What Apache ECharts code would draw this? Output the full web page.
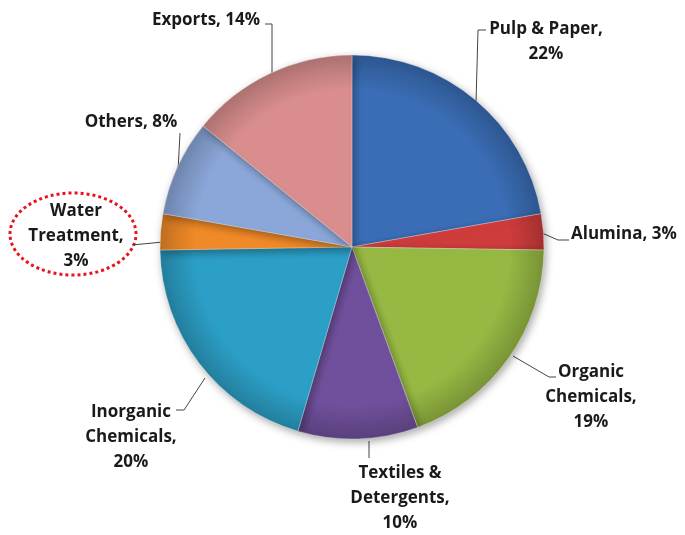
<!DOCTYPE html>
<html>
<head>
<meta charset="utf-8">
<script src="https://cdn.jsdelivr.net/npm/echarts@6/dist/echarts.min.js"></script>
<style>
  html, body { margin: 0; padding: 0; background: #fff; }
  #chart { width: 685px; height: 535px; }
</style>
</head>
<body>
<div id="chart"></div>
<script>
// slices, clockwise from 12 o'clock
var categories = ['Pulp & Paper', 'Alumina', 'Organic Chemicals', 'Textiles & Detergents',
                  'Inorganic Chemicals', 'Water Treatment', 'Others', 'Exports'];
var shares = [22, 3, 19, 10, 20, 3, 8, 14];
var labelNames = ['Pulp & Paper,\n', 'Alumina, ', 'Organic\nChemicals,\n', 'Textiles &\nDetergents,\n',
                  'Inorganic\nChemicals,\n', 'Water\nTreatment,\n', 'Others, ', 'Exports, '];
var colors = ['#3a6db5', '#cf3c3c', '#97b944', '#70509c', '#2c9fc6', '#f08a28', '#8ba7d9', '#d98e8d'];

var cx = 352, cy = 247, R = 192;

// where each label goes and how its leader line bends
var labelSpots = [
  { x: 546, y: 42,  align: 'center', line: [[476, 103], [478, 30], [486, 30]] },
  { x: 571, y: 234, align: 'left',   line: [[542, 233], [558, 240], [569, 240]] },
  { x: 591, y: 397, align: 'center', line: [[513, 356], [549, 377], [556, 377]] },
  { x: 400, y: 498, align: 'center', line: [[369, 441], [369, 458]] },
  { x: 131, y: 437, align: 'center', line: [[205, 378], [184, 410], [176, 410]] },
  { x: 76,  y: 236, align: 'center', line: [[163, 242], [132, 245]] },
  { x: 131, y: 122, align: 'center', line: [[178, 171], [180, 133]] },
  { x: 206, y: 20,  align: 'center', line: [[272, 78], [272, 24], [265, 24]] }
];

function darken(hex, k) {
  var n = parseInt(hex.slice(1), 16);
  var r = Math.round(((n >> 16) & 255) * k);
  var g = Math.round(((n >> 8) & 255) * k);
  var b = Math.round((n & 255) * k);
  return 'rgb(' + r + ',' + g + ',' + b + ')';
}

function shade(c) {
  return {
    type: 'radial', x: cx, y: cy, r: R, global: true,
    colorStops: [
      { offset: 0, color: c },
      { offset: 0.82, color: c },
      { offset: 1, color: darken(c, 0.8) }
    ]
  };
}

var chart = echarts.init(document.getElementById('chart'));
chart.setOption({
  animation: false,
  textStyle: { fontFamily: 'Open Sans' },
  series: [{
    type: 'pie',
    center: [cx, cy],
    radius: [0, R],
    startAngle: 90,
    clockwise: true,
    data: categories.map(function (n, i) {
      return { name: n, value: shares[i], itemStyle: { color: shade(colors[i]) } };
    }),
    itemStyle: {
      borderColor: 'rgba(255,255,255,0.3)',
      borderWidth: 1,
      shadowBlur: 8,
      shadowColor: 'rgba(0,0,0,0.35)',
      shadowOffsetX: 2,
      shadowOffsetY: 3
    },
    label: {
      show: true,
      formatter: function (p) { return labelNames[p.dataIndex] + p.value + '%'; },
      fontFamily: 'Open Sans',
      fontWeight: 'bold',
      fontSize: 17,
      lineHeight: 25,
      color: '#1a1a1a',
      overflow: 'none'
    },
    labelLine: {
      show: true,
      lineStyle: { color: '#444', width: 1 }
    },
    labelLayout: function (p) {
      var s = labelSpots[p.dataIndex];
      return {
        x: s.x, y: s.y, align: s.align, verticalAlign: 'middle',
        labelLinePoints: s.line
      };
    }
  }],
  graphic: [{
    type: 'ellipse',
    shape: { cx: 73, cy: 234, rx: 63, ry: 41 },
    style: { fill: 'none', stroke: '#e8141c', lineWidth: 3, lineDash: [3, 3] }
  }]
});
</script>
</body>
</html>
